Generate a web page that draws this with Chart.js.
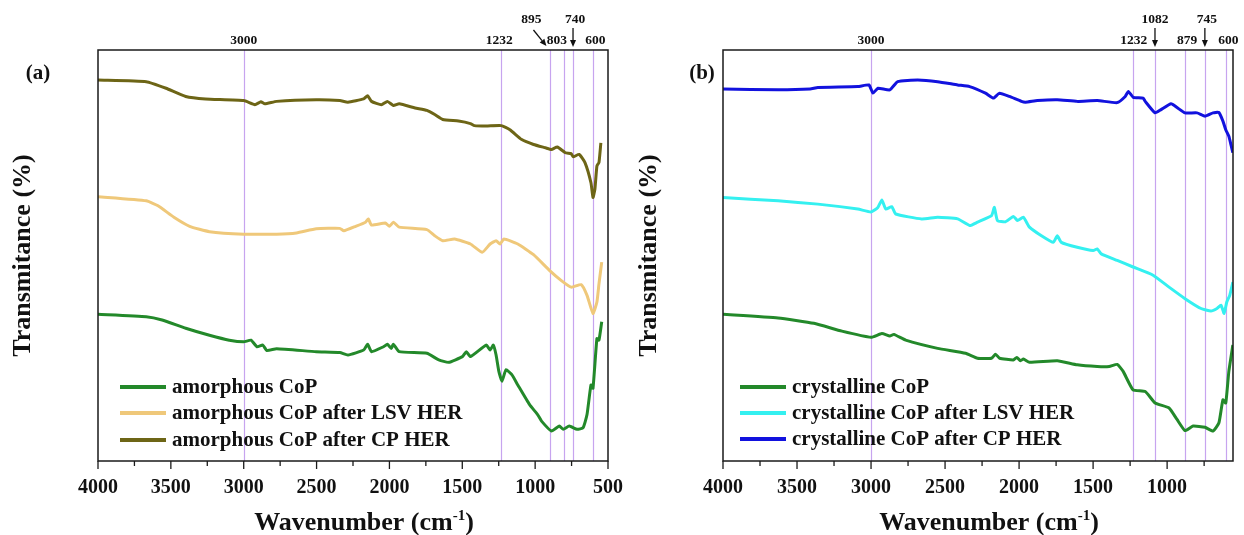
<!DOCTYPE html>
<html>
<head>
<meta charset="utf-8">
<title>FTIR spectra of CoP</title>
<script src="https://cdn.jsdelivr.net/npm/chart.js@4.4.1/dist/chart.umd.min.js"></script>
<style>
  body { margin: 0; background: #fff; }
  #wrap { position: relative; width: 1244px; height: 535px; overflow: hidden; }
  .panel { position: absolute; top: 0; }
</style>
</head>
<body>
<div id="wrap">
  <div class="panel" style="left:0"><canvas id="chartA" width="640" height="535"></canvas></div>
  <div class="panel" style="left:620px"><canvas id="chartB" width="624" height="535"></canvas></div>
</div>
<script>
// [wavenumber (cm-1), transmittance (a.u., offset)] pairs
const amorphousCoP = [
  [4000,35.7],[3669,35.1],[3560,34.3],[3398,32.3],[3235,30.6],[3099,29.4],[3000,29.0],
  [2950,29.4],[2909,27.8],[2869,28.2],[2842,26.9],[2774,27.3],[2502,26.6],[2340,26.4],
  [2285,25.8],[2177,27.0],[2150,28.4],[2123,26.6],[2041,27.8],[2014,28.4],[1987,27.4],
  [1973,28.4],[1933,26.6],[1743,26.2],[1661,24.6],[1594,24.0],[1499,25.4],[1472,26.6],
  [1444,25.4],[1336,28.2],[1309,27.0],[1287,28.2],[1268,25.8],[1249,21.8],[1228,19.4],
  [1200,22.2],[1160,21.0],[1119,18.5],[1038,13.7],[983,11.3],[956,9.7],[888,7.3],
  [834,8.5],[807,7.7],[766,8.5],[712,7.7],[671,8.1],[644,11.3],[617,18.5],[603,17.7],
  [576,29.8],[562,29.4],[543,33.9]
];
const amorphousLSV = [
  [4000,64.3],[3669,63.3],[3588,62.1],[3479,59.3],[3371,57.1],[3235,55.8],[3000,55.2],
  [2774,55.2],[2638,55.5],[2502,56.5],[2340,56.6],[2313,56.0],[2231,57.1],[2164,58.1],
  [2145,58.9],[2123,57.4],[2028,57.9],[2000,57.1],[1973,58.1],[1933,56.9],[1743,56.3],
  [1689,54.8],[1634,53.6],[1553,54.0],[1444,52.8],[1363,50.8],[1309,52.8],[1268,53.6],
  [1241,52.8],[1214,54.0],[1119,52.8],[1011,50.2],[902,46.4],[820,43.9],[753,42.3],
  [684,42.9],[644,40.3],[603,35.9],[576,38.7],[562,43.1],[543,48.4]
];
const amorphousCP = [
  [4000,92.7],[3669,92.3],[3533,90.7],[3398,88.7],[3262,88.1],[3000,87.7],[2923,86.7],
  [2882,87.4],[2855,86.9],[2774,87.5],[2502,87.9],[2340,87.7],[2285,87.3],[2177,88.1],
  [2150,88.9],[2123,87.5],[2055,86.7],[2014,87.5],[1973,86.5],[1933,86.9],[1824,85.9],
  [1743,85.3],[1689,84.3],[1634,83.1],[1526,82.7],[1444,82.1],[1417,81.6],[1336,81.5],
  [1233,81.6],[1173,80.6],[1092,78.2],[1011,77.0],[929,76.2],[888,75.8],[848,76.4],
  [793,75.0],[753,74.8],[739,74.0],[698,74.6],[658,72.6],[617,67.7],[603,64.1],
  [590,66.1],[576,71.8],[562,72.6],[549,77.4]
];

const crystallineCoP = [
  [4000,35.7],[3628,34.8],[3386,33.5],[3197,31.6],[3000,30.1],[2927,31.0],[2873,30.4],
  [2846,30.8],[2766,29.4],[2550,27.4],[2361,26.2],[2281,25.0],[2186,25.0],[2159,26.0],
  [2132,25.0],[2038,24.6],[2016,25.2],[1990,24.4],[1971,24.8],[1930,24.0],[1742,24.4],
  [1607,23.4],[1472,23.0],[1391,23.0],[1337,23.5],[1297,21.8],[1230,17.3],[1148,16.9],
  [1081,14.1],[987,12.9],[933,10.1],[879,7.4],[825,8.5],[744,8.2],[690,7.3],[650,9.3],
  [623,14.9],[604,14.1],[583,21.8],[556,28.2]
];
const crystallineLSV = [
  [4000,64.1],[3628,63.3],[3359,62.5],[3089,61.3],[3000,60.6],[2954,61.7],[2927,63.5],
  [2900,61.3],[2860,61.9],[2833,60.1],[2658,58.9],[2550,59.3],[2415,58.9],[2334,57.3],
  [2281,58.1],[2186,59.7],[2167,61.7],[2146,58.5],[2092,58.2],[2038,59.5],[2011,58.5],
  [1971,59.3],[1930,56.9],[1849,54.8],[1769,53.2],[1742,54.8],[1715,53.2],[1607,52.0],
  [1499,51.2],[1472,51.6],[1445,50.4],[1337,48.8],[1230,47.2],[1095,45.2],[987,42.3],
  [879,39.5],[771,37.1],[704,36.5],[663,37.1],[636,37.9],[615,35.9],[597,38.7],
  [577,40.3],[556,43.5]
];
const crystallineCP = [
  [4000,90.5],[3628,90.3],[3412,90.5],[3359,90.9],[3089,91.1],[3014,91.5],[2987,89.5],
  [2954,90.7],[2873,90.3],[2820,92.3],[2685,92.7],[2550,92.3],[2415,91.5],[2334,91.1],
  [2227,89.5],[2173,88.3],[2132,89.5],[2065,88.7],[1984,87.5],[1957,87.3],[1876,87.7],
  [1742,87.9],[1607,87.5],[1472,87.7],[1337,87.2],[1283,88.7],[1262,89.9],[1229,88.5],
  [1162,88.3],[1148,87.5],[1081,84.7],[1041,85.5],[973,86.9],[933,86.0],[879,84.7],
  [798,84.7],[744,83.9],[690,84.7],[650,84.8],[623,82.7],[604,80.6],[583,79.0],
  [569,77.0],[556,75.0]
];

// x-axis ticks (labelled every 500, minor every 250)
const ticksA = [4000, 3500, 3000, 2500, 2000, 1500, 1000, 500];
const ticksB = [4000, 3500, 3000, 2500, 2000, 1500, 1000];

// band positions marked with vertical lines
const bandsA = [3000, 1232, 895, 803, 740, 600];
const bandsB = [3000, 1232, 1082, 879, 745, 600];
// label row (0 = lower, 1 = upper), horizontal nudge, arrow type
const bandLabelsA = [
  { row: 0, dx: 0 }, { row: 0, dx: -2 }, { row: 1, dx: -19, arrow: 'diag' },
  { row: 0, dx: -7 }, { row: 1, dx: 2, arrow: 'down' }, { row: 0, dx: 2 }
];
const bandLabelsB = [
  { row: 0, dx: 0 }, { row: 0, dx: 1 }, { row: 1, dx: 0, arrow: 'down' },
  { row: 0, dx: 2 }, { row: 1, dx: 2, arrow: 'down' }, { row: 0, dx: 2 }
];

const labelsA = ['amorphous CoP', 'amorphous CoP after LSV HER', 'amorphous CoP after CP HER'];
const labelsB = ['crystalline CoP', 'crystalline CoP after LSV HER', 'crystalline CoP after CP HER'];
const colorsA = ['#23892a', '#efc87a', '#6d6516'];
const colorsB = ['#23892a', '#34f0f0', '#1212de'];

const FAMILY = "'Liberation Serif', 'Times New Roman', serif";
Chart.defaults.font.family = FAMILY;
Chart.defaults.color = '#111';

function arrow(ctx, x1, y1, x2, y2) {
  const ang = Math.atan2(y2 - y1, x2 - x1);
  const hl = 7, hw = 3;
  ctx.beginPath();
  ctx.moveTo(x1, y1);
  ctx.lineTo(x2 - hl * Math.cos(ang), y2 - hl * Math.sin(ang));
  ctx.stroke();
  ctx.beginPath();
  ctx.moveTo(x2, y2);
  ctx.lineTo(x2 - hl * Math.cos(ang) + hw * Math.sin(ang), y2 - hl * Math.sin(ang) - hw * Math.cos(ang));
  ctx.lineTo(x2 - hl * Math.cos(ang) - hw * Math.sin(ang), y2 - hl * Math.sin(ang) + hw * Math.cos(ang));
  ctx.closePath();
  ctx.fill();
}

function drawAxisTitle(ctx, cx, y) {
  const main = 'bold 26px ' + FAMILY;
  const sup = 'bold 15px ' + FAMILY;
  ctx.font = main;
  const w1 = ctx.measureText('Wavenumber (cm').width;
  const w3 = ctx.measureText(')').width;
  ctx.font = sup;
  const w2 = ctx.measureText('-1').width;
  let x = cx - (w1 + w2 + w3) / 2;
  ctx.textAlign = 'left';
  ctx.textBaseline = 'alphabetic';
  ctx.font = main; ctx.fillText('Wavenumber (cm', x, y); x += w1;
  ctx.font = sup; ctx.fillText('-1', x, y - 10); x += w2;
  ctx.font = main; ctx.fillText(')', x, y);
}

function decor(panel) {
  return {
    id: 'ftirDecor',
    beforeDatasetsDraw(chart) {
      const { ctx, chartArea: a, scales: { x } } = chart;
      ctx.save();
      ctx.strokeStyle = '#c7a4ef';
      ctx.lineWidth = 1.2;
      panel.bands.forEach(wn => {
        const px = Math.round(x.getPixelForValue(wn)) + 0.5;
        ctx.beginPath();
        ctx.moveTo(px, a.top);
        ctx.lineTo(px, a.bottom);
        ctx.stroke();
      });
      ctx.restore();
    },
    afterDraw(chart) {
      const { ctx, chartArea: a, scales: { x } } = chart;
      ctx.save();
      // frame
      ctx.strokeStyle = '#1a1a1a';
      ctx.lineWidth = 1.5;
      ctx.strokeRect(a.left, a.top, a.right - a.left, a.bottom - a.top);
      // ticks below the axis
      ctx.lineWidth = 1.3;
      for (let v = 4000; v >= x.min; v -= 250) {
        const px = x.getPixelForValue(v);
        const len = v % 500 === 0 ? 8 : 5;
        ctx.beginPath();
        ctx.moveTo(px, a.bottom);
        ctx.lineTo(px, a.bottom + len);
        ctx.stroke();
      }
      // band labels
      ctx.fillStyle = '#111';
      ctx.strokeStyle = '#111';
      ctx.lineWidth = 1.3;
      ctx.font = 'bold 13.5px ' + FAMILY;
      ctx.textAlign = 'center';
      ctx.textBaseline = 'middle';
      panel.bands.forEach((wn, i) => {
        const lab = panel.bandLabels[i];
        const px = x.getPixelForValue(wn);
        const ty = lab.row === 0 ? a.top - 9 : a.top - 30;
        ctx.fillText(String(wn), px + lab.dx, ty);
        if (lab.arrow === 'down') {
          arrow(ctx, px, a.top - 22, px, a.top - 3);
        } else if (lab.arrow === 'diag') {
          arrow(ctx, px - 17, a.top - 20, px - 4, a.top - 4);
        }
      });
      // legend
      ctx.font = 'bold 21px ' + FAMILY;
      ctx.textAlign = 'left';
      ctx.textBaseline = 'middle';
      chart.data.datasets.forEach((ds, i) => {
        const y = a.bottom + panel.legendRows[i];
        const x0 = a.left + panel.legendX;
        ctx.strokeStyle = ds.borderColor;
        ctx.lineWidth = 4;
        ctx.beginPath();
        ctx.moveTo(x0, y);
        ctx.lineTo(x0 + 46, y);
        ctx.stroke();
        ctx.fillStyle = '#111';
        ctx.fillText(ds.label, x0 + 52, y + 1);
      });
      // panel tag
      ctx.font = 'bold 21px ' + FAMILY;
      ctx.textAlign = 'center';
      ctx.fillText(panel.tag, a.left + panel.tagDx, a.top + 24);
      // x-axis title
      ctx.fillStyle = '#111';
      drawAxisTitle(ctx, (a.left + a.right) / 2 + 11, 530);
      ctx.restore();
    }
  };
}

function makePanel(id, panel) {
  const datasets = panel.series.map((s, i) => ({
    label: panel.labels[i],
    data: s.map(p => ({ x: p[0], y: p[1] })),
    borderColor: panel.colors[i],
    borderWidth: 3,
    pointRadius: 0,
    tension: 0.15,
    fill: false
  }));
  return new Chart(document.getElementById(id), {
    type: 'line',
    data: { datasets },
    options: {
      responsive: false,
      animation: false,
      devicePixelRatio: 1,
      layout: { padding: { top: 50, right: panel.padRight, left: 0, bottom: 0 } },
      plugins: { legend: { display: false }, tooltip: { enabled: false } },
      scales: {
        x: {
          type: 'linear',
          reverse: true,
          min: panel.xMin,
          max: 4000,
          border: { display: false },
          grid: { display: false, drawTicks: false },
          afterBuildTicks: scale => { scale.ticks = panel.ticks.map(v => ({ value: v })); },
          afterFit: scale => {
            scale.height = 74;
            scale.paddingLeft = 0;
            scale.paddingRight = 0;
          },
          ticks: {
            autoSkip: false,
            maxRotation: 0,
            padding: 15,
            color: '#111',
            font: { size: 20, weight: 'bold' },
            callback: v => String(v)
          }
        },
        y: {
          min: 0,
          max: 100,
          border: { display: false },
          grid: { display: false, drawTicks: false },
          ticks: { display: false },
          afterFit: scale => { scale.width = panel.yWidth; },
          title: {
            display: true,
            text: 'Transmitance (%)',
            color: '#111',
            font: { size: 26, weight: 'bold' },
            padding: { top: panel.titlePad, bottom: 0 }
          }
        }
      }
    },
    plugins: [decor(panel)]
  });
}

makePanel('chartA', {
  series: [amorphousCoP, amorphousLSV, amorphousCP],
  labels: labelsA, colors: colorsA,
  ticks: ticksA, xMin: 500,
  bands: bandsA, bandLabels: bandLabelsA,
  yWidth: 98, padRight: 32, titlePad: 8,
  legendX: 22, legendRows: [-74, -48, -21],
  tag: '(a)', tagDx: -60
});

makePanel('chartB', {
  series: [crystallineCoP, crystallineLSV, crystallineCP],
  labels: labelsB, colors: colorsB,
  ticks: ticksB, xMin: 555,
  bands: bandsB, bandLabels: bandLabelsB,
  yWidth: 103, padRight: 11, titlePad: 14,
  legendX: 17, legendRows: [-74, -48, -22],
  tag: '(b)', tagDx: -21
});
</script>
</body>
</html>
